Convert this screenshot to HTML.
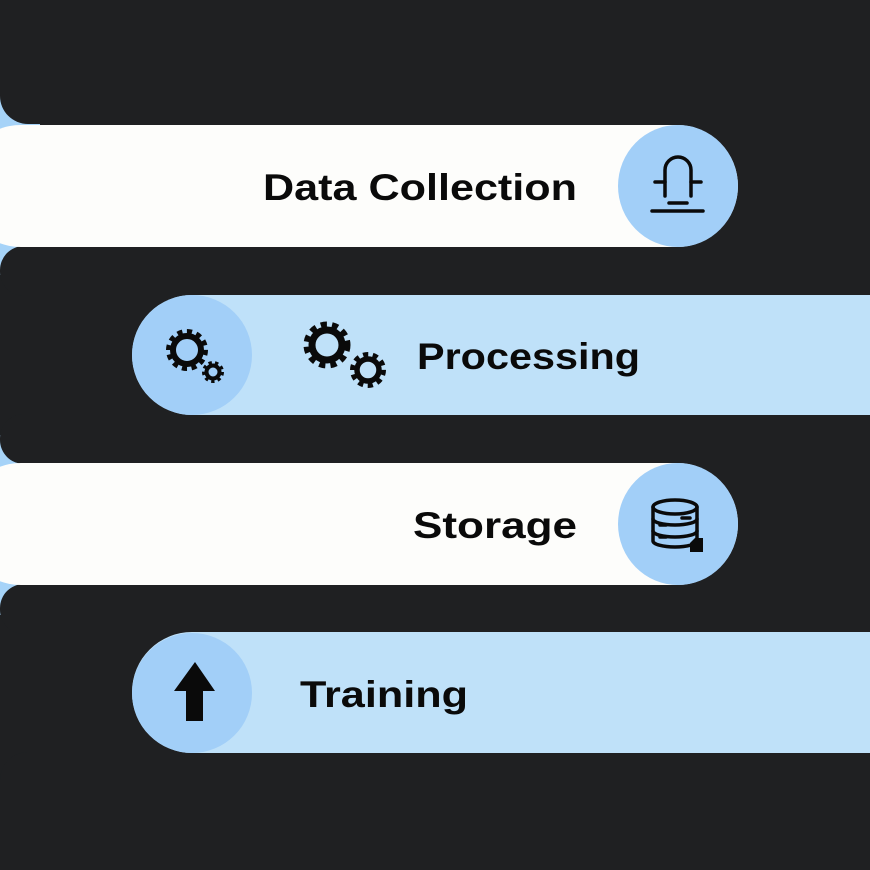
<!DOCTYPE html>
<html><head><meta charset="utf-8"><style>
html,body{margin:0;padding:0;width:870px;height:870px;overflow:hidden;background:#1f2022;}
svg{display:block}
text{font-family:"Liberation Sans",sans-serif;font-weight:bold;font-size:37px;fill:#0a0a0a}
</style></head><body>
<svg width="870" height="870" viewBox="0 0 870 870">
<rect x="0" y="0" width="870" height="870" fill="#1f2022"/>
<rect x="0" y="95" width="40" height="180" fill="#a6d3f8"/>
<rect x="0" y="435" width="40" height="180" fill="#a6d3f8"/>
<!-- dark bands -->
<g fill="#1f2022">
<rect x="0" y="-60" width="900" height="184" rx="28"/>
<rect x="0" y="246" width="900" height="50" rx="24"/>
<rect x="0" y="414" width="900" height="50" rx="24"/>
<rect x="0" y="584" width="900" height="50" rx="24"/>
<rect x="0" y="752" width="900" height="160" rx="28"/>
</g>
<!-- Data Collection -->
<rect x="-40" y="125" width="778" height="122" rx="61" fill="#fdfdfb"/>
<ellipse cx="678" cy="186" rx="60" ry="61" fill="#a2cff8"/>
<text x="263" y="200" textLength="314" lengthAdjust="spacingAndGlyphs">Data Collection</text>
<g stroke="#0a0a0a" stroke-width="3.5" fill="none" stroke-linecap="round">
<path d="M665 196 V170 a13 13 0 0 1 26 0 V196"/>
<line x1="655" y1="182" x2="665" y2="182"/><line x1="691" y1="182" x2="701" y2="182"/>
<line x1="669" y1="203" x2="687" y2="203"/>
<line x1="652" y1="211" x2="703" y2="211"/>
</g>
<!-- Processing -->
<rect x="132" y="295" width="800" height="120" rx="60" fill="#bfe1f9"/>
<ellipse cx="192" cy="355" rx="60" ry="60" fill="#a2cff8"/>
<text x="417" y="369" textLength="223" lengthAdjust="spacingAndGlyphs">Processing</text>
<g fill="none" stroke="#0a0a0a">
<circle cx="187" cy="350" r="14" stroke-width="6"/>
<circle cx="187" cy="350" r="18" stroke-width="6" stroke-dasharray="5 4.4"/>
<circle cx="213" cy="372" r="6.5" stroke-width="4"/>
<circle cx="213" cy="372" r="9" stroke-width="4" stroke-dasharray="3.2 3.1"/>
<circle cx="327" cy="345" r="15" stroke-width="7"/>
<circle cx="327" cy="345" r="20" stroke-width="7" stroke-dasharray="6 5"/>
<circle cx="368" cy="370" r="11" stroke-width="5.5"/>
<circle cx="368" cy="370" r="15" stroke-width="6" stroke-dasharray="5 4.4"/>
</g>
<!-- Storage -->
<rect x="-40" y="463" width="778" height="122" rx="61" fill="#fdfdfb"/>
<ellipse cx="678" cy="524" rx="60" ry="61" fill="#a2cff8"/>
<text x="413" y="538" textLength="164" lengthAdjust="spacingAndGlyphs">Storage</text>
<g stroke="#0a0a0a" stroke-width="3.5" fill="none" stroke-linecap="round">
<ellipse cx="675" cy="507" rx="22" ry="7"/>
<path d="M653 507 V541 a22 6 0 0 0 44 0 V507"/>
<path d="M653 519 a22 6 0 0 0 44 0"/>
<path d="M653 531 a22 6 0 0 0 44 0"/>
<line x1="660" y1="525" x2="666" y2="525"/><line x1="660" y1="537" x2="666" y2="537"/>
<line x1="682" y1="518" x2="690" y2="518"/>
</g>
<path d="M690 543 l5 -5 h8 v14 h-13 z" fill="#0a0a0a"/>
<!-- Training -->
<rect x="132" y="632" width="800" height="121" rx="60" fill="#bfe1f9"/>
<ellipse cx="192" cy="693" rx="60" ry="60" fill="#a2cff8"/>
<text x="300" y="707" textLength="168" lengthAdjust="spacingAndGlyphs">Training</text>
<path d="M195 662 L174 691 H186 V721 H203 V691 H215 Z" fill="#0a0a0a"/>
</svg>
</body></html>
